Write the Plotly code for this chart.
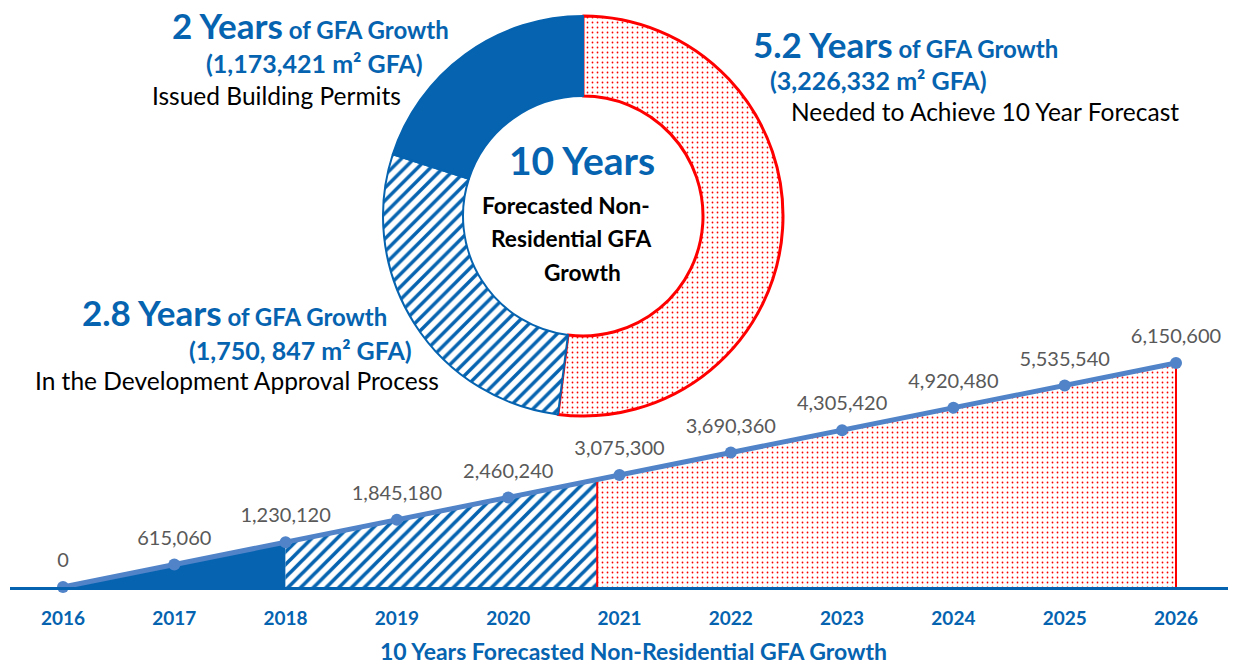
import numpy as np
import plotly.graph_objects as go

# ---------------- data ----------------
years = [2016, 2017, 2018, 2019, 2020, 2021, 2022, 2023, 2024, 2025, 2026]
gfa = [0, 615060, 1230120, 1845180, 2460240, 3075300, 3690360, 4305420, 4920480, 5535540, 6150600]
gfa_labels = ["0", "615,060", "1,230,120", "1,845,180", "2,460,240", "3,075,300",
              "3,690,360", "4,305,420", "4,920,480", "5,535,540", "6,150,600"]

seg_names = ["Needed to Achieve 10 Year Forecast", "In the Development Approval Process", "Issued Building Permits"]
seg_years = [5.2, 2.8, 2.0]
seg_year_labels = ["5.2", "2.8", "2"]
seg_gfa = ["3,226,332", "1,750, 847", "1,173,421"]

# ---------------- style ----------------
DARK = "#0563B0"
LINE = "#5083C8"
RED = "#FF0000"
GREY = "#595959"
FONT = "Lato"

W, H = 1241, 666
ML, MR, MT, MB = 10, 13, 0, 79
PW, PH = W - ML - MR, H - MT - MB


def px(x):
    return (x - ML) / PW


def py(y):
    return (H - MB - y) / PH


permits_end = years[0] + seg_years[2]
approval_end = permits_end + seg_years[1]
end = years[-1]


def seg(x0, x1):
    xs = [x0] + [y for y in years if x0 < y < x1] + [x1]
    ys = list(np.interp(xs, years, gfa))
    return xs, ys


fig = go.Figure()

xs, ys = seg(years[0], permits_end)
fig.add_trace(go.Scatter(x=[xs[0]] + xs + [xs[-1]], y=[0] + ys + [0], mode="lines", fill="toself",
                         fillcolor=DARK, line=dict(width=0, color=DARK), hoverinfo="skip", showlegend=False))
xs, ys = seg(permits_end, approval_end)
fig.add_trace(go.Scatter(x=[xs[0]] + xs + [xs[-1]], y=[0] + ys + [0], mode="lines", fill="toself",
                         fillcolor="white", line=dict(width=0, color=DARK),
                         fillpattern=dict(shape="/", fgcolor=DARK, bgcolor="white", size=9,
                                          solidity=0.4, fgopacity=1),
                         hoverinfo="skip", showlegend=False))
xs, ys = seg(approval_end, end)
fig.add_trace(go.Scatter(x=[xs[0]] + xs + [xs[-1]], y=[0] + ys + [0], mode="lines", fill="toself",
                         fillcolor="white", line=dict(width=2, color=RED),
                         fillpattern=dict(shape=".", fgcolor=RED, bgcolor="white", size=5,
                                          solidity=0.1, fgopacity=1),
                         hoverinfo="skip", showlegend=False))
fig.add_trace(go.Scatter(x=years, y=gfa, mode="lines+markers",
                         line=dict(color=LINE, width=5), marker=dict(color=LINE, size=12),
                         cliponaxis=False, hoverinfo="skip", showlegend=False))
# data labels (invisible larger markers give the label offset)
fig.add_trace(go.Scatter(x=years, y=gfa, mode="markers+text", text=gfa_labels,
                         textposition="top center", textfont=dict(family=FONT, size=20, color=GREY),
                         marker=dict(size=22, opacity=0), cliponaxis=False, hoverinfo="skip",
                         showlegend=False))

cx, cy, r = 583, 216, 200
fig.add_trace(go.Pie(values=seg_years, labels=seg_names, sort=False, direction="clockwise", rotation=0,
                     hole=0.6, textinfo="none", hoverinfo="skip", showlegend=False,
                     domain=dict(x=[px(cx - r), px(cx + r)], y=[py(cy + r), py(cy - r)]),
                     marker=dict(colors=["white", "white", DARK],
                                 line=dict(color=[RED, DARK, DARK], width=[3, 2, 2]),
                                 pattern=dict(shape=[".", "/", ""], fgcolor=[RED, DARK, DARK],
                                              bgcolor=["white", "white", DARK], size=[5, 9, 8],
                                              solidity=[0.1, 0.38, 0.3]))))

ann = []


def text(x, y, s, size, color, bold=False, xanchor="center"):
    if bold:
        s = "<b>" + s + "</b>"
    ann.append(dict(x=px(x), y=py(y), xref="paper", yref="paper", text=s, showarrow=False,
                    xanchor=xanchor, yanchor="middle", font=dict(family=FONT, size=size, color=color)))


def big(n):
    return f"<span style='font-size:35px'>{n} Years</span> of GFA Growth"


# top-left
text(310, 25, big(seg_year_labels[2]), 24, DARK, True)
text(314, 63, f"({seg_gfa[2]} m² GFA)", 25, DARK, True)
text(276, 95, seg_names[2], 24.5, "black")
# right
text(905, 44, big(seg_year_labels[0]), 24, DARK, True)
text(878, 80, f"({seg_gfa[0]} m² GFA)", 25, DARK, True)
text(985, 111, seg_names[0], 24.5, "black")
# bottom-left
text(234, 312, big(seg_year_labels[1]), 24, DARK, True)
text(300, 350, f"({seg_gfa[1]} m² GFA)", 25, DARK, True)
text(237, 381, seg_names[1], 24.5, "black")
# centre
text(582, 160, "10 Years", 39, DARK, True)
text(566, 205, "Forecasted Non-", 22.7, "black", True)
text(571, 238, "Residential GFA", 22.7, "black", True)
text(582, 272, "Growth", 22.7, "black", True)
# axis title
text(633, 651, "10 Years Forecasted Non-Residential GFA Growth", 23, DARK, True)

x_lo = years[0] - 53 / 111.3
x_hi = years[-1] + 52 / 111.3
fig.update_layout(
    width=W, height=H, margin=dict(l=ML, r=MR, t=MT, b=MB),
    paper_bgcolor="white", plot_bgcolor="white", annotations=ann,
    xaxis=dict(range=[x_lo, x_hi], tickvals=years, ticktext=[f"<b>{y}</b>" for y in years],
               tickfont=dict(family=FONT, size=19, color=DARK), showgrid=False, zeroline=False,
               showline=True, linecolor=DARK, linewidth=3, ticks="outside", ticklen=12,
               tickcolor="rgba(0,0,0,0)", fixedrange=True),
    yaxis=dict(range=[0, 6150600 * 587 / 224], visible=False, fixedrange=True),
)
fig.write_html("out.html", config={"displayModeBar": False},
               post_script="document.body.style.margin='0px';document.body.style.padding='0px';")
